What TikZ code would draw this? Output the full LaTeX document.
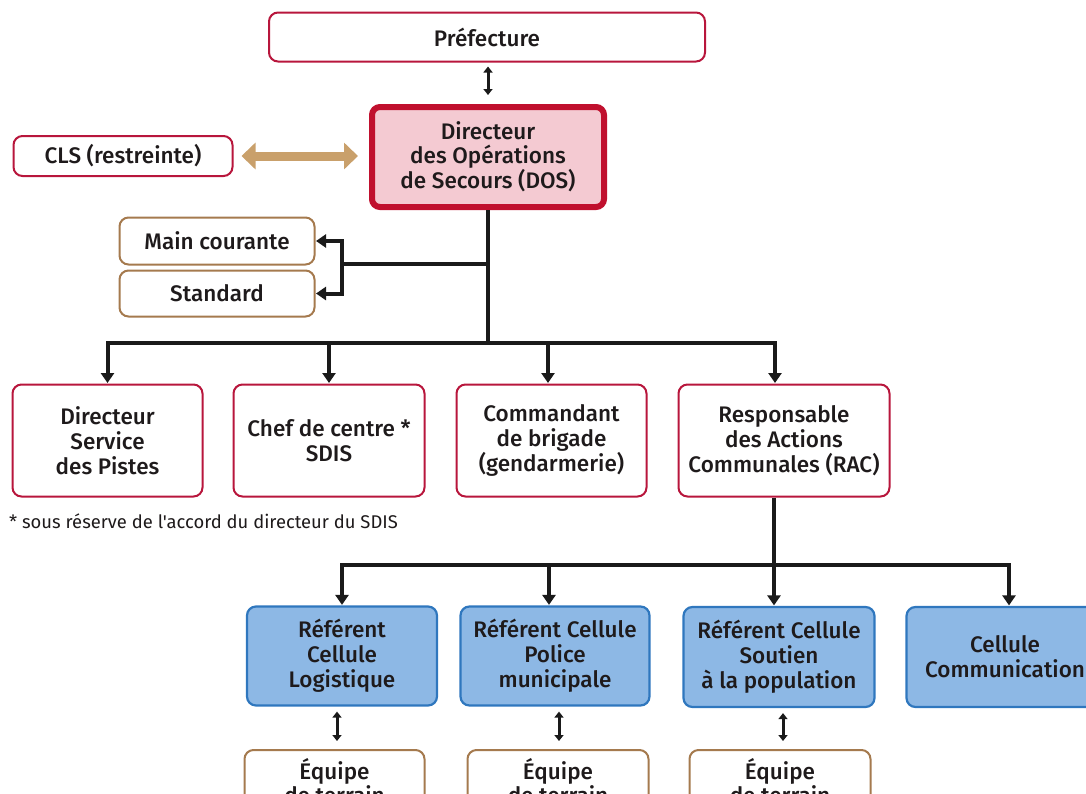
\documentclass[tikz,border=0pt]{standalone}
\usepackage{fontspec}
\newfontfamily\dfont{Fira Sans Medium}
\newfontfamily\nfont{Fira Sans}
\usetikzlibrary{arrows.meta,calc}
\definecolor{redc}{HTML}{B8163C}
\definecolor{dosb}{HTML}{C0102E}
\definecolor{dosf}{HTML}{F4CAD2}
\definecolor{tanc}{HTML}{A57A4E}
\definecolor{tana}{HTML}{C9A06B}
\definecolor{bluef}{HTML}{8DB8E5}
\definecolor{bluec}{HTML}{2F77BE}
\definecolor{txt}{HTML}{1E1A1B}
\definecolor{linec}{HTML}{1A1A1A}
\tikzset{
  box/.style={draw, rounded corners=9pt, line width=2pt, align=center, inner sep=0pt,
    text=txt, font=\dfont\fontsize{22.5}{25}\selectfont},
  redbox/.style={box, draw=redc, fill=white},
  tanbox/.style={box, draw=tanc, fill=white},
  bluebox/.style={box, draw=bluec, fill=bluef, line width=2.2pt},
  dosbox/.style={box, draw=dosb, fill=dosf, line width=6pt, rounded corners=8pt,
    font=\dfont\fontsize{22.5}{24}\selectfont},
  conn/.style={draw=linec, line width=4pt},
  down/.style={conn, -{Triangle[length=10pt,width=13pt]}, shorten >=0.5pt},
  dbl/.style={draw=linec, line width=3pt, {Triangle[length=6pt,width=9pt]}-{Triangle[length=6pt,width=9pt]}},
  tanarrow/.style={draw=tana, line width=9pt, {Triangle[length=14pt,width=26pt]}-{Triangle[length=14pt,width=26pt]}},
}
\begin{document}
\begin{tikzpicture}[x=1pt,y=-1pt]
\useasboundingbox (0,0) rectangle (1086,793);
\clip (0,0) rectangle (1086,793);
% top
\node[redbox, minimum width=436pt, minimum height=49pt] (pref) at (487,37) {Préfecture};
\node[dosbox, minimum width=232pt, minimum height=100pt] (dos) at (488,157) {Directeur\\des Opérations\\de Secours (DOS)};
\node[redbox, minimum width=219pt, minimum height=40pt] (cls) at (123,156) {CLS (restreinte)};
\node[tanbox, minimum width=195pt, minimum height=47pt] (main) at (217,241) {Main courante};
\node[tanbox, minimum width=195pt, minimum height=46pt] (std) at (217,293.5) {Standard};
% row 1
\node[redbox, minimum width=190pt, minimum height=112pt] (r1) at (107.5,440.5) {Directeur\\Service\\des Pistes};
\node[redbox, minimum width=191pt, minimum height=112pt] (r2) at (329,440.5) {Chef de centre *\\SDIS};
\node[redbox, minimum width=190pt, minimum height=112pt] (r3) at (551.5,440.5) {Commandant\\de brigade\\(gendarmerie)};
\node[redbox, minimum width=211pt, minimum height=112pt] (r4) at (784,440.5) {Responsable\\des Actions\\Communales (RAC)};
\node[anchor=west, inner sep=0pt, text=txt, font=\nfont\fontsize{18.4}{20}\selectfont] (note) at (9,521) {* sous réserve de l'accord du directeur du SDIS};
% row 2
\node[bluebox, minimum width=190pt, minimum height=99pt] (b1) at (342,656) {Référent\\Cellule\\Logistique};
\node[bluebox, minimum width=189pt, minimum height=99pt] (b2) at (555,656) {Référent Cellule\\Police\\municipale};
\node[bluebox, minimum width=191pt, minimum height=100pt] (b3) at (779,657) {Référent Cellule\\Soutien\\à la population};
\node[bluebox, minimum width=197pt, minimum height=100pt] (b4) at (1005,657) {Cellule\\Communication};
% row 3
\node[tanbox, minimum width=180pt, minimum height=62pt, font=\dfont\fontsize{22.5}{20}\selectfont] (e1) at (334.5,781) {Équipe\\de terrain};
\node[tanbox, minimum width=181pt, minimum height=62pt, font=\dfont\fontsize{22.5}{20}\selectfont] (e2) at (558,781) {Équipe\\de terrain};
\node[tanbox, minimum width=181pt, minimum height=62pt, font=\dfont\fontsize{22.5}{20}\selectfont] (e3) at (780,781) {Équipe\\de terrain};
% connectors
\draw[dbl, shorten <=4pt, shorten >=9pt] (pref.south -| dos.north) -- (dos.north);
\draw[tanarrow, shorten <=8pt, shorten >=11pt] (cls.east) -- (cls.east -| dos.west);
\coordinate (j1) at (488,343);
\coordinate (k) at (342,264);
\draw[conn] (dos.south) -- (j1);
\draw[conn] (dos.south |- k) -- (k);
\draw[down] (k) |- (main.east);
\draw[down] (k) |- (std.east);
\draw[down] (j1) -| (r1.north);
\draw[down] (j1) -| (r2.north);
\draw[down] (j1) -| ([xshift=-3.5pt]r3.north);
\draw[down] (j1) -| ([xshift=-9pt]r4.north);
\coordinate (j2) at (774,565);
\draw[conn] ([xshift=-10pt]r4.south) -- (j2);
\draw[down] (j2) -| (b1.north);
\draw[down] (j2) -| ([xshift=-6pt]b2.north);
\draw[down] (j2) -| ([xshift=-5pt]b3.north);
\draw[down] (j2) -| ([xshift=4pt]b4.north);
\draw[dbl, shorten <=5pt, shorten >=8pt] ([xshift=-5pt]b1.south) -- ([xshift=-5pt]b1.south |- e1.north);
\draw[dbl, shorten <=5pt, shorten >=8pt] ([xshift=4pt]b2.south) -- ([xshift=4pt]b2.south |- e2.north);
\draw[dbl, shorten <=5pt, shorten >=8pt] ([xshift=4pt]b3.south) -- ([xshift=4pt]b3.south |- e3.north);
\end{tikzpicture}
\end{document}
